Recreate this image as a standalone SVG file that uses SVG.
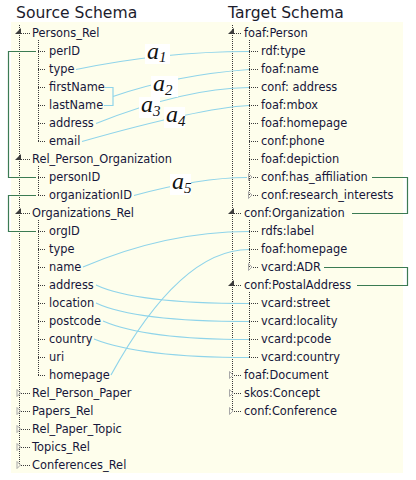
<svg xmlns="http://www.w3.org/2000/svg" width="416" height="480" viewBox="0 0 416 480">
<defs>
<style>
.t{font-family:"DejaVu Sans",Verdana,sans-serif;font-size:11.4px;fill:#16163a}
.title{font-family:"DejaVu Sans",Verdana,sans-serif;font-size:15.6px;fill:#1c1c2c}
.dot{stroke:#3a3a3a;stroke-width:1;stroke-dasharray:1 1;fill:none}
.exp{fill:#3c3c3c}
.col{fill:none;stroke:#a8a8a8;stroke-width:1}
.blue{stroke:#8fd4ea;stroke-width:1.2;fill:none}
.green{stroke:#3b7b53;stroke-width:1.2;fill:none}
.lbl{font-family:"Liberation Serif","Times New Roman",serif;font-style:italic;font-size:24px;fill:#111}
.sub{font-size:15px}
.lb{fill:#ffffff}
</style>
<polygon id="tri-exp" points="5,0 5,6 -1,6"/>
<polygon id="tri-col" points="0,0 0,7 3.5,3.5"/>
</defs>
<rect x="11" y="22" width="392" height="451" fill="#fefeec"/>
<text class="title" x="16" y="18">Source Schema</text>
<text class="title" x="228" y="18">Target Schema</text>

<g id="tree-lines">
<path class="dot" d="M19.5,25 V465 M38.5,40 V141 M38.5,166 V195 M38.5,220 V375"/>
<path class="dot" d="M21,33.5 H30 M21,159.5 H30 M21,213.5 H30 M21,393.5 H30 M21,411.5 H30 M21,429.5 H30 M21,447.5 H30 M21,465.5 H30"/>
<path class="dot" d="M38,51.5 H46 M38,69.5 H46 M38,87.5 H46 M38,105.5 H46 M38,123.5 H46 M38,141.5 H46 M38,177.5 H46 M38,195.5 H46 M38,231.5 H46 M38,249.5 H46 M38,267.5 H46 M38,285.5 H46 M38,303.5 H46 M38,321.5 H46 M38,339.5 H46 M38,357.5 H46 M38,375.5 H46"/>
<path class="dot" d="M232.5,25 V411 M249.5,40 V195 M249.5,220 V267 M249.5,292 V357"/>
<path class="dot" d="M234,33.5 H241 M234,213.5 H241 M234,285.5 H241 M234,375.5 H241 M234,393.5 H241 M234,411.5 H241"/>
<path class="dot" d="M249,51.5 H258 M249,69.5 H258 M249,87.5 H258 M249,105.5 H258 M249,123.5 H258 M249,141.5 H258 M249,159.5 H258 M253,177.5 H258 M253,195.5 H258 M249,231.5 H258 M249,249.5 H258 M253,267.5 H258 M249,303.5 H258 M249,321.5 H258 M249,339.5 H258 M249,357.5 H258"/>
</g>

<g id="source">
<g id="s-persons-rel"><use href="#tri-exp" class="exp" x="16" y="28"/><text class="t" x="32" y="37">Persons_Rel</text></g>
<g id="s-perID"><text class="t" x="49" y="55">perID</text></g>
<g id="s-type1"><text class="t" x="49" y="73">type</text></g>
<g id="s-firstName"><text class="t" x="49" y="91">firstName</text></g>
<g id="s-lastName"><text class="t" x="49" y="109">lastName</text></g>
<g id="s-address1"><text class="t" x="49" y="127">address</text></g>
<g id="s-email"><text class="t" x="49" y="145">email</text></g>
<g id="s-rel-person-org"><use href="#tri-exp" class="exp" x="16" y="154"/><text class="t" x="32" y="163">Rel_Person_Organization</text></g>
<g id="s-personID"><text class="t" x="49" y="181">personID</text></g>
<g id="s-organizationID"><text class="t" x="49" y="199">organizationID</text></g>
<g id="s-organizations-rel"><use href="#tri-exp" class="exp" x="16" y="208"/><text class="t" x="32" y="217">Organizations_Rel</text></g>
<g id="s-orgID"><text class="t" x="49" y="235">orgID</text></g>
<g id="s-type2"><text class="t" x="49" y="253">type</text></g>
<g id="s-name"><text class="t" x="49" y="271">name</text></g>
<g id="s-address2"><text class="t" x="49" y="289">address</text></g>
<g id="s-location"><text class="t" x="49" y="307">location</text></g>
<g id="s-postcode"><text class="t" x="49" y="325">postcode</text></g>
<g id="s-country"><text class="t" x="49" y="343">country</text></g>
<g id="s-uri"><text class="t" x="49" y="361">uri</text></g>
<g id="s-homepage"><text class="t" x="49" y="379">homepage</text></g>
<g id="s-rel-person-paper"><use href="#tri-col" class="col" x="17" y="389.5"/><text class="t" x="32" y="397">Rel_Person_Paper</text></g>
<g id="s-papers-rel"><use href="#tri-col" class="col" x="17" y="407.5"/><text class="t" x="32" y="415">Papers_Rel</text></g>
<g id="s-rel-paper-topic"><use href="#tri-col" class="col" x="17" y="425.5"/><text class="t" x="32" y="433">Rel_Paper_Topic</text></g>
<g id="s-topics-rel"><use href="#tri-col" class="col" x="17" y="443.5"/><text class="t" x="32" y="451">Topics_Rel</text></g>
<g id="s-conferences-rel"><use href="#tri-col" class="col" x="17" y="461.5"/><text class="t" x="32" y="469">Conferences_Rel</text></g>
</g>

<g id="target">
<g id="t-foaf-person"><use href="#tri-exp" class="exp" x="229" y="28"/><text class="t" x="244" y="37">foaf:Person</text></g>
<g id="t-rdf-type"><text class="t" x="261" y="55">rdf:type</text></g>
<g id="t-foaf-name"><text class="t" x="261" y="73">foaf:name</text></g>
<g id="t-conf-address"><text class="t" x="261" y="91">conf: address</text></g>
<g id="t-foaf-mbox"><text class="t" x="261" y="109">foaf:mbox</text></g>
<g id="t-foaf-homepage1"><text class="t" x="261" y="127">foaf:homepage</text></g>
<g id="t-conf-phone"><text class="t" x="261" y="145">conf:phone</text></g>
<g id="t-foaf-depiction"><text class="t" x="261" y="163">foaf:depiction</text></g>
<g id="t-conf-has-affiliation"><use href="#tri-col" class="col" x="248.5" y="173.5"/><text class="t" x="261" y="181">conf:has_affiliation</text></g>
<g id="t-conf-research-interests"><use href="#tri-col" class="col" x="248.5" y="191.5"/><text class="t" x="261" y="199">conf:research_interests</text></g>
<g id="t-conf-organization"><use href="#tri-exp" class="exp" x="229" y="208"/><text class="t" x="244" y="217">conf:Organization</text></g>
<g id="t-rdfs-label"><text class="t" x="261" y="235">rdfs:label</text></g>
<g id="t-foaf-homepage2"><text class="t" x="261" y="253">foaf:homepage</text></g>
<g id="t-vcard-adr"><use href="#tri-col" class="col" x="248.5" y="263.5"/><text class="t" x="261" y="271">vcard:ADR</text></g>
<g id="t-conf-postaladdress"><use href="#tri-exp" class="exp" x="229" y="280"/><text class="t" x="244" y="289">conf:PostalAddress</text></g>
<g id="t-vcard-street"><text class="t" x="261" y="307">vcard:street</text></g>
<g id="t-vcard-locality"><text class="t" x="261" y="325">vcard:locality</text></g>
<g id="t-vcard-pcode"><text class="t" x="261" y="343">vcard:pcode</text></g>
<g id="t-vcard-country"><text class="t" x="261" y="361">vcard:country</text></g>
<g id="t-foaf-document"><use href="#tri-col" class="col" x="229.5" y="371.5"/><text class="t" x="244" y="379">foaf:Document</text></g>
<g id="t-skos-concept"><use href="#tri-col" class="col" x="229.5" y="389.5"/><text class="t" x="244" y="397">skos:Concept</text></g>
<g id="t-conf-conference"><use href="#tri-col" class="col" x="229.5" y="407.5"/><text class="t" x="244" y="415">conf:Conference</text></g>
</g>

<g id="connectors">
<path class="green" d="M36,51.5 H8.5 V177.5 H36"/>
<path class="green" d="M36,195.5 H8.5 V231.5 H36"/>
<path class="green" d="M372,177.5 H407.5 V213.5 H352"/>
<path class="green" d="M324,267.5 H407.5 V285.5 H357"/>
<path class="blue" d="M76,69.5 Q163,51.5 249,51.5"/>
<path class="blue" d="M105,87.5 H113 V105.5 H104 M113,96.5 Q175,75 249,69.5"/>
<path class="blue" d="M96,123.5 Q185,88 249,87.5"/>
<path class="blue" d="M82,141.5 Q200,108 249,105.5"/>
<path class="blue" d="M134,195.5 Q200,177.5 247,177.5"/>
<path class="blue" d="M83,267 Q166,231.5 249,231.5"/>
<path class="blue" d="M111,375 Q180,249.5 249,249.5"/>
<path class="blue" d="M96,285 Q135,303.5 249,303.5"/>
<path class="blue" d="M96,303 Q135,321.5 249,321.5"/>
<path class="blue" d="M103,321 Q145,339.5 249,339.5"/>
<path class="blue" d="M94,339 Q140,357.5 249,357.5"/>
</g>

<g id="labels">
<g id="lbl-a1"><rect class="lb" x="145" y="44" width="25" height="20"/><text class="lbl" x="147" y="59">a<tspan class="sub" dy="3">1</tspan></text></g>
<g id="lbl-a2"><rect class="lb" x="151" y="76" width="27" height="21"/><text class="lbl" x="153" y="91">a<tspan class="sub" dy="4">2</tspan></text></g>
<g id="lbl-a3"><rect class="lb" x="139" y="97" width="21" height="21"/><text class="lbl" x="141" y="112">a<tspan class="sub" dy="4">3</tspan></text></g>
<g id="lbl-a4"><rect class="lb" x="164" y="107" width="21" height="21"/><text class="lbl" x="166" y="122">a<tspan class="sub" dy="4">4</tspan></text></g>
<g id="lbl-a5"><rect class="lb" x="170" y="174" width="21" height="21"/><text class="lbl" x="172" y="189">a<tspan class="sub" dy="4">5</tspan></text></g>
</g>
</svg>
